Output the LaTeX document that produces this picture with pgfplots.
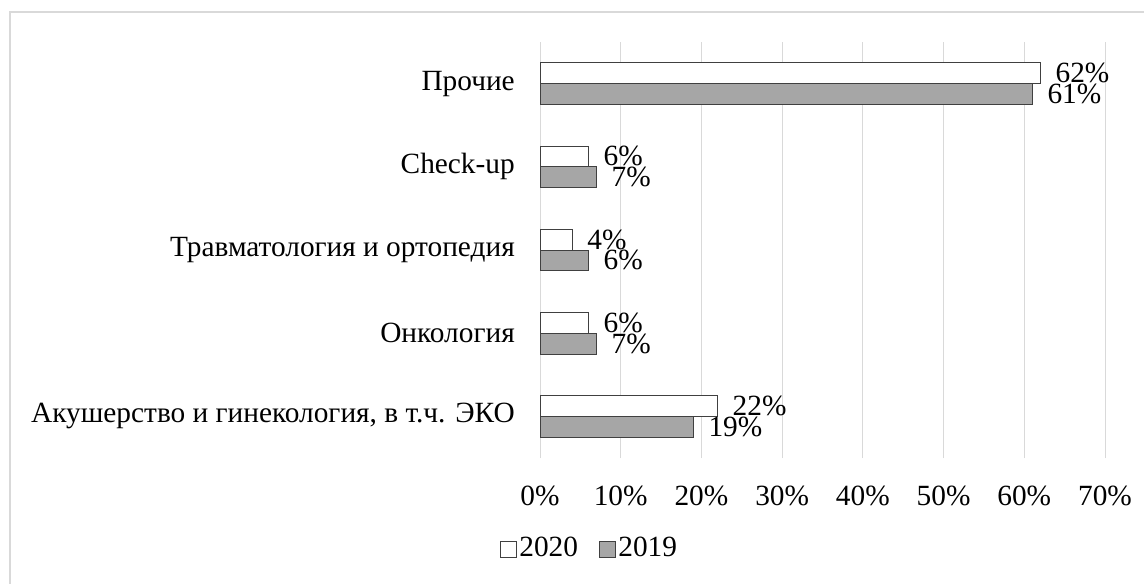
\documentclass[border=0pt]{standalone}
\usepackage{fontspec}
\setmainfont{Liberation Serif}
\usepackage{pgfplots}
\pgfplotsset{compat=1.18}
\definecolor{gridgray}{HTML}{D9D9D9}
\definecolor{bargray}{HTML}{A6A6A6}
\definecolor{edge}{HTML}{404040}
\begin{document}
\fontsize{22}{26}\selectfont
\begin{tikzpicture}
  % canvas 1144x583 px at 0.75pt per px
  \useasboundingbox (0,0) rectangle (858pt,437.25pt);
  \begin{scope}
    \clip (0,0) rectangle (858pt,437.25pt);
    \draw[gridgray, line width=1.5pt] (7.5pt,-10pt) -- (7.5pt,428.25pt) -- (870pt,428.25pt);
  \end{scope}
  \begin{axis}[
    at={(405pt,93.75pt)}, anchor=south west,
    scale only axis,
    width=423.75pt, height=312pt,
    xmin=0, xmax=70,
    ymin=-0.5, ymax=4.5,
    xtick={0,10,...,70},
    xticklabel={\pgfmathprintnumber{\tick}\%},
    ytick={0,1,2,3,4},
    yticklabels={{Акушерство и гинекология, в т.ч. ЭКО},Онкология,{Травматология и ортопедия},Check-up,Прочие},
    axis line style={draw=none},
    major tick length=0pt,
    xmajorgrids,
    major grid style={draw=gridgray, line width=0.75pt},
    xticklabel style={anchor=north, inner sep=0pt, yshift=-21pt},
    yticklabel style={anchor=east, inner sep=0pt, xshift=-18.75pt},
    /pgf/number format/assume math mode=true,
    xbar, bar width=0.25,
    point meta=x,
    nodes near coords={\pgfmathprintnumber{\pgfplotspointmeta}\%},
    nodes near coords style={anchor=west, inner sep=0pt, xshift=11pt},
    legend style={at={(0.0885,-0.219)}, anchor=center, draw=none, fill=none,
      legend columns=2, /tikz/every even column/.append style={column sep=14pt},
      inner sep=0pt},
    legend cell align=left,
    legend image code/.code={\draw[#1, line width=0.75pt] (0pt,-6pt) rectangle (11.5pt,5.5pt);},
    clip=false
  ]
    \addplot[draw=edge, fill=white, line width=0.75pt, bar shift=0.125]
      coordinates {(22,0) (6,1) (4,2) (6,3) (62,4)};
    \addlegendentry{2020}
    \addplot[draw=edge, fill=bargray, line width=0.75pt, bar shift=-0.125]
      coordinates {(19,0) (7,1) (6,2) (7,3) (61,4)};
    \addlegendentry{2019}
  \end{axis}
\end{tikzpicture}
\end{document}
